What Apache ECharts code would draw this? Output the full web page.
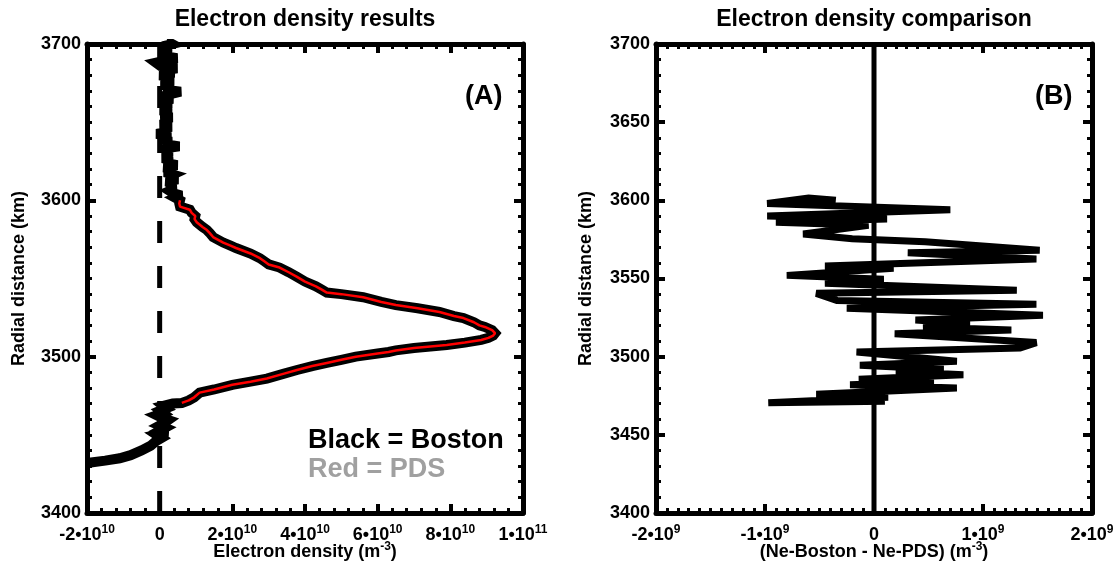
<!DOCTYPE html>
<html>
<head>
<meta charset="utf-8">
<script src="https://cdn.jsdelivr.net/npm/echarts@6/dist/echarts.min.js"></script>
<style>html,body{margin:0;padding:0;background:#fff}#c{width:1115px;height:562px}</style>
</head>
<body>
<div id="c"></div>
<script>
// ---- Data (density in units of 1e9 m^-3, radius in km) ----
// Panel A: PDS profile [density, radius]
const pdsProfile = [
  [6.1,3470.4],[8,3472],[9.5,3474],[11,3477],[15,3479],[20,3482],[25,3484],[29.5,3486],
  [34,3489],[37.8,3491.5],[42,3494],[46,3496],[50,3498],[54,3500],[60,3502],[63,3503],
  [65,3504],[70,3505.5],[79,3507.5],[84,3509],[88.5,3510.7],[90.5,3512],[91.8,3513.5],
  [92.3,3515],[91.5,3517],[89.5,3519],[88,3520],[86.5,3522],[83.6,3524.7],[81,3526],
  [77,3528.6],[71,3531],[65,3533],[61,3535],[56,3538],[50,3540],[46,3541],[44.5,3543],
  [43,3545],[40,3548],[37.8,3551],[35.5,3554],[33,3557],[30,3559],[29.5,3560],[28.8,3561],
  [27.6,3563],[25,3566],[21,3569.5],[19.5,3571],[17.5,3573],[14.7,3576.5],[13.8,3579],
  [13,3581],[11.8,3583],[10.2,3586],[9.6,3588],[9.2,3589],[9.8,3590],[8.8,3592],[8.3,3594],
  [5.6,3596],[5.4,3598],[5.6,3600]
];
// Boston profile below the PDS range
const bostonLow = [
  [-20,3432],[-15,3433.5],[-11,3435],[-8,3437],[-5,3440],[-2.5,3443],[-1,3446],[0.5,3448],
  [-0.8,3450],[2.2,3451.5],[0.3,3453],[1.5,3454.5],[0.0,3456],[1.2,3457.5],[2.4,3459.5],
  [0.5,3461],[-0.8,3462.5],[1.0,3464],[0.2,3465.5],[1.8,3467],[1.0,3468.5],[3.6,3470]
];
// Boston profile above the PDS range
const bostonHigh = [
  [4.4,3601.5],[6.0,3603],[3.8,3604.5],[2.8,3606],[4.4,3607.5],[2.0,3609],[3.8,3610.5],
  [1.8,3612],[5.0,3613.5],[2.2,3615],[3.6,3616.5],[1.4,3618],[3.4,3619.5],[1.2,3621],
  [4.8,3622.5],[1.8,3624],[3.4,3625.5],[0.8,3627],[3.2,3628.5],[1.0,3630],[3.4,3631.5],
  [0.8,3633],[5.4,3634.5],[1.2,3636],[3.2,3637.5],[0.6,3639],[3.0,3640.5],[-0.8,3642.5],
  [2.2,3644],[0.4,3645.5],[3.2,3647],[0.2,3648.5],[2.8,3650],[0.6,3651.5],[3.4,3653],
  [0.4,3654.5],[3.0,3656],[0.2,3657.5],[3.2,3659],[0.6,3660.5],[3.2,3662],[0.2,3663.5],
  [3.6,3665],[0.8,3666.5],[3.0,3668],[5.8,3669.5],[1.1,3671],[3.6,3672.5],[0.4,3674],
  [3.8,3675.5],[0.6,3677],[3.2,3678.5],[0.0,3680],[4.0,3681.5],[0.8,3683],[4.8,3684.5],
  [0.2,3686],[-1.0,3688],[1.8,3689.5],[4.8,3691],[0.6,3692.5],[3.0,3694],[-0.2,3695.5],
  [3.2,3697],[0.8,3698.5],[3.4,3700],[1.8,3702]
];
// Panel B: difference Boston - PDS [difference (1e9 m^-3), radius]
const diffProfile = [
  [-0.35,3600],[-0.6,3601.5],[-0.98,3598],[0.7,3594],[-0.98,3590],[0.12,3588],[-0.9,3586],
  [-0.05,3584],[-0.65,3578.5],[-0.2,3575.5],[0.47,3573.5],[1.52,3568],[0.31,3566.5],
  [1.49,3562.5],[-0.45,3558],[0.18,3556.5],[-0.8,3552],[0.09,3549.5],[-0.45,3547],
  [1.31,3542.5],[-0.53,3540.5],[-0.34,3536],[1.49,3533.5],[-0.25,3531],[1.55,3526.5],
  [0.38,3523.5],[0.88,3521],[0.45,3519],[1.26,3517],[0.19,3514.7],[1.49,3509],[1.34,3505.5],
  [-0.16,3503],[0.76,3497],[-0.13,3494.5],[0.64,3492],[0.2,3490.5],[0.82,3488.5],
  [-0.14,3485.5],[0.55,3484],[-0.22,3482],[0.76,3480],[-0.53,3476],[0.13,3474],
  [-0.97,3470.5],[0.1,3471.5]
];
const zeroLine = [[0,3400],[0,3700]];

// Tick labels
const xTicksA = [-20, 0, 20, 40, 60, 80, 100];
const xLabelsA = [['-2','10'],['0',''],['2','10'],['4','10'],['6','10'],['8','10'],['1','11']];
const xTicksB = [-2, -1, 0, 1, 2];
const xLabelsB = [['-2','9'],['-1','9'],['0',''],['1','9'],['2','9']];
const yTicksA = [3400, 3500, 3600, 3700];
const yTicksB = [3400, 3450, 3500, 3550, 3600, 3650, 3700];

const FONT = '"Liberation Sans", Arial, Helvetica, sans-serif';

function sciFormatter(ticks, labels) {
  return function (v) {
    const i = ticks.findIndex(t => Math.abs(t - v) < 1e-6);
    if (i < 0) return '';
    const m = labels[i][0], e = labels[i][1];
    return e ? m + '\u202210{s|' + e + '}' : m;
  };
}
const richSup = { s: { fontSize: 12, fontWeight: 'bold', fontFamily: FONT, color: '#000', lineHeight: 12, verticalAlign: 'top' } };

function frameAxis(extra) {
  return Object.assign({
    type: 'value',
    nameMoveOverlap: false,
    axisLine: { show: true, onZero: false, lineStyle: { color: '#000', width: 5 } },
    axisTick: { show: true, inside: true, length: 9, lineStyle: { color: '#000', width: 4 } },
    splitLine: { show: false },
    minorSplitLine: { show: false }
  }, extra);
}
function minor(n) {
  return { show: true, splitNumber: n, length: 5, lineStyle: { color: '#000', width: 3 } };
}
const labelBase = { show: true, fontSize: 18, fontWeight: 'bold', fontFamily: FONT, color: '#000', lineHeight: 22 };
const nameStyle = { fontSize: 18, fontWeight: 'bold', fontFamily: FONT, color: '#000', lineHeight: 22, rich: richSup };

const option = {
  animation: false,
  backgroundColor: '#fff',
  grid: [
    { left: 87, top: 44, width: 436, height: 469, containLabel: false, outerBoundsMode: 'none' },
    { left: 656, top: 44, width: 436, height: 469, containLabel: false, outerBoundsMode: 'none' }
  ],
  xAxis: [
    frameAxis({ gridIndex: 0, position: 'bottom', min: -20, max: 100, interval: 20, minorTick: minor(5),
      axisLabel: Object.assign({}, labelBase, { margin: 11, formatter: sciFormatter(xTicksA, xLabelsA), rich: richSup }),
      name: 'Electron density (m{s|-3})', nameLocation: 'middle', nameGap: 28, nameTextStyle: nameStyle }),
    frameAxis({ gridIndex: 0, position: 'top', min: -20, max: 100, interval: 20, minorTick: minor(5),
      axisLabel: { show: false } }),
    frameAxis({ gridIndex: 1, position: 'bottom', min: -2, max: 2, interval: 1, minorTick: minor(10),
      axisLabel: Object.assign({}, labelBase, { margin: 11, formatter: sciFormatter(xTicksB, xLabelsB), rich: richSup }),
      name: '(Ne-Boston - Ne-PDS) (m{s|-3})', nameLocation: 'middle', nameGap: 28, nameTextStyle: nameStyle }),
    frameAxis({ gridIndex: 1, position: 'top', min: -2, max: 2, interval: 1, minorTick: minor(10),
      axisLabel: { show: false } })
  ],
  yAxis: [
    frameAxis({ gridIndex: 0, position: 'left', min: 3400, max: 3700, interval: 100, minorTick: minor(10),
      axisLabel: Object.assign({}, labelBase, { margin: 6, formatter: v => yTicksA.includes(v) ? String(v) : '' }),
      name: 'Radial distance (km)', nameLocation: 'middle', nameGap: 59, nameRotate: 90,
      nameTextStyle: { fontSize: 18, fontWeight: 'bold', fontFamily: FONT, color: '#000' } }),
    frameAxis({ gridIndex: 0, position: 'right', min: 3400, max: 3700, interval: 100, minorTick: minor(10),
      axisLabel: { show: false } }),
    frameAxis({ gridIndex: 1, position: 'left', min: 3400, max: 3700, interval: 50, minorTick: minor(5),
      axisLabel: Object.assign({}, labelBase, { margin: 6, formatter: v => yTicksB.includes(v) ? String(v) : '' }),
      name: 'Radial distance (km)', nameLocation: 'middle', nameGap: 61, nameRotate: 90,
      nameTextStyle: { fontSize: 18, fontWeight: 'bold', fontFamily: FONT, color: '#000' } }),
    frameAxis({ gridIndex: 1, position: 'right', min: 3400, max: 3700, interval: 50, minorTick: minor(5),
      axisLabel: { show: false } })
  ],
  series: [
    { type: 'line', xAxisIndex: 0, yAxisIndex: 0, data: zeroLine, symbol: 'none', silent: true,
      lineStyle: { color: '#000', width: 5, type: [22, 23], cap: 'butt' }, z: 1 },
    { type: 'line', xAxisIndex: 0, yAxisIndex: 0, data: bostonLow.concat(pdsProfile, bostonHigh),
      symbol: 'none', lineStyle: { color: '#000', width: 10, join: 'miter', miterLimit: 3 }, z: 2 },
    { type: 'line', xAxisIndex: 0, yAxisIndex: 0, data: pdsProfile, symbol: 'none',
      lineStyle: { color: '#ff0000', width: 2.5 }, z: 3 },
    { type: 'line', xAxisIndex: 2, yAxisIndex: 2, data: zeroLine, symbol: 'none',
      lineStyle: { color: '#000', width: 5 }, z: 1 },
    { type: 'line', xAxisIndex: 2, yAxisIndex: 2, data: diffProfile, symbol: 'none',
      lineStyle: { color: '#000', width: 7, join: 'miter', miterLimit: 4 }, z: 2 }
  ],
  graphic: [
    { type: 'text', x: 305, y: 8, style: { text: 'Electron density results', align: 'center', textAlign: 'center', verticalAlign: 'top', fontSize: 23, fontWeight: 'bold', fontFamily: FONT, fill: '#000' } },
    { type: 'text', x: 874, y: 8, style: { text: 'Electron density comparison', align: 'center', textAlign: 'center', verticalAlign: 'top', fontSize: 23, fontWeight: 'bold', fontFamily: FONT, fill: '#000' } },
    { type: 'text', x: 465, y: 83, style: { text: '(A)', fontSize: 27, fontWeight: 'bold', fontFamily: FONT, fill: '#000' } },
    { type: 'text', x: 1035, y: 83, style: { text: '(B)', fontSize: 27, fontWeight: 'bold', fontFamily: FONT, fill: '#000' } },
    { type: 'text', x: 308, y: 427, style: { text: 'Black = Boston', fontSize: 27, fontWeight: 'bold', fontFamily: FONT, fill: '#000' } },
    { type: 'text', x: 308, y: 456, style: { text: 'Red = PDS', fontSize: 27, fontWeight: 'bold', fontFamily: FONT, fill: '#a0a0a0' } }
  ]
};
const chart = echarts.init(document.getElementById('c'), null, { renderer: 'canvas' });
chart.setOption(option);
</script>
</body>
</html>
